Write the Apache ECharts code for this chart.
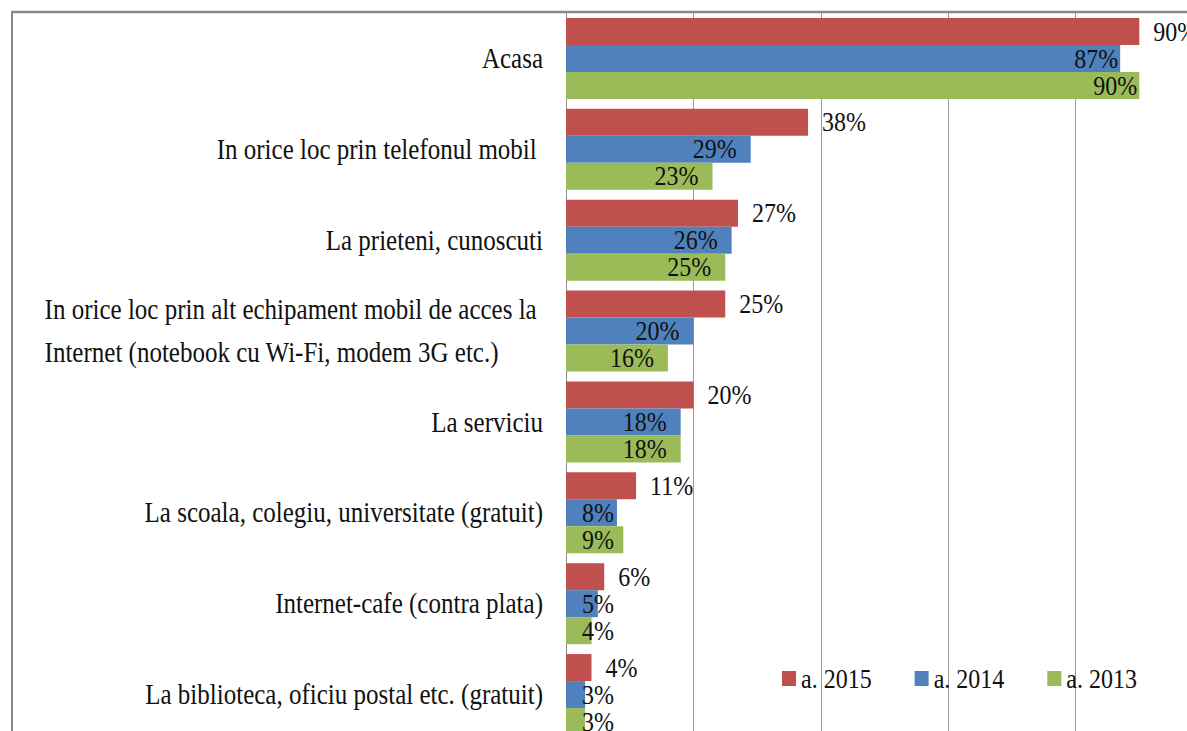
<!DOCTYPE html>
<html lang="ro">
  <head>
    <meta charset="UTF-8" />
    <script src="https://cdn.jsdelivr.net/npm/echarts@6/dist/echarts.min.js"></script>
    <style>
      html, body { margin: 0; padding: 0; overflow: hidden; background: #fff; }
      /* the original picture is stretched vertically (tall, narrow glyphs) */
      #main {
        position: absolute; left: 0; top: 0;
        width: 1260px; height: 700px;
        transform: scaleY(1.15); transform-origin: 0 0;
      }
    </style>
    <title>Acces Internet</title>
  </head>
  <body>
    <div id="main"></div>
    <script>
      const categories = [
        "Acasa",
        "In orice loc prin telefonul mobil ",
        "La prieteni, cunoscuti",
        "In orice loc prin alt echipament mobil de acces la \nInternet (notebook cu Wi-Fi, modem 3G etc.)",
        "La serviciu",
        "La scoala, colegiu, universitate (gratuit)",
        "Internet-cafe (contra plata)",
        "La biblioteca, oficiu postal etc. (gratuit)",
      ];
      const years = ["a. 2015", "a. 2014", "a. 2013"];
      const v2015 = [90, 38, 27, 25, 20, 11, 6, 4];
      const v2014 = [87, 29, 26, 20, 18, 8, 5, 3];
      const v2013 = [90, 23, 25, 16, 18, 9, 4, 3];
      const colors = ["#C0504D", "#4F81BD", "#9BBB59"];

      const sy = 1.15; // vertical stretch applied by css
      const font = "'Liberation Serif', 'DejaVu Serif', serif";
      const catSize = 25;
      const valSize = 24;

      // inside labels: short bars get the label pushed to the left edge
      function insideData(values) {
        return values.map((v) => {
          let label;
          if (v < 10) label = { position: "insideLeft", distance: 16 };
          else if (v >= 80) label = { position: "insideRight", distance: 2 };
          else label = { position: "insideRight", distance: 14 };
          return { value: v, label: label };
        });
      }

      const labelText = {
        show: true,
        formatter: "{c}%",
        color: "#111",
        fontFamily: font,
        fontSize: valSize,
      };

      const chart = echarts.init(document.getElementById("main"), null, { renderer: "svg" });
      chart.setOption({
        animation: false,
        color: colors,
        grid: { left: 566, top: 13 / sy, width: 637, height: 727 / sy, containLabel: false },
        legend: {
          data: years,
          left: 777,
          top: 573,
          icon: "rect",
          itemWidth: 14,
          itemHeight: 13,
          itemGap: 43,
          textStyle: { fontFamily: font, fontSize: valSize, color: "#111" },
        },
        xAxis: {
          type: "value",
          min: 0,
          max: 100,
          interval: 20,
          axisLabel: { show: false },
          axisLine: { show: false },
          axisTick: { show: false },
          splitLine: { lineStyle: { color: "#9a9a9a", width: 1 } },
        },
        yAxis: {
          type: "category",
          inverse: true,
          data: categories,
          axisLine: { lineStyle: { color: "#8a8a8a", width: 1 } },
          axisTick: { length: 6, lineStyle: { color: "#8a8a8a" } },
          axisLabel: {
            margin: 23,
            color: "#111",
            fontFamily: font,
            fontSize: catSize,
            formatter: (v) => v.split("\n").map((s) => "{a|" + s + "}").join("\n"),
            rich: {
              a: { align: "left", lineHeight: 43 / sy, fontFamily: font, fontSize: catSize, color: "#111" },
            },
          },
        },
        series: [
          {
            name: years[0],
            type: "bar",
            barWidth: 27 / sy,
            barGap: "0%",
            data: v2015,
            label: Object.assign({ position: "right", distance: 14 }, labelText),
          },
          {
            name: years[1],
            type: "bar",
            barWidth: 27 / sy,
            barGap: "0%",
            data: insideData(v2014),
            label: labelText,
          },
          {
            name: years[2],
            type: "bar",
            barWidth: 27 / sy,
            barGap: "0%",
            data: insideData(v2013),
            label: labelText,
          },
        ],
        graphic: [
          {
            type: "rect",
            shape: { x: 12, y: 12 / sy, width: 1400, height: 1000 },
            style: { fill: "none", stroke: "#8a8a8a", lineWidth: 2 },
            silent: true,
            z: 100,
          },
        ],
      });
    </script>
  </body>
</html>
